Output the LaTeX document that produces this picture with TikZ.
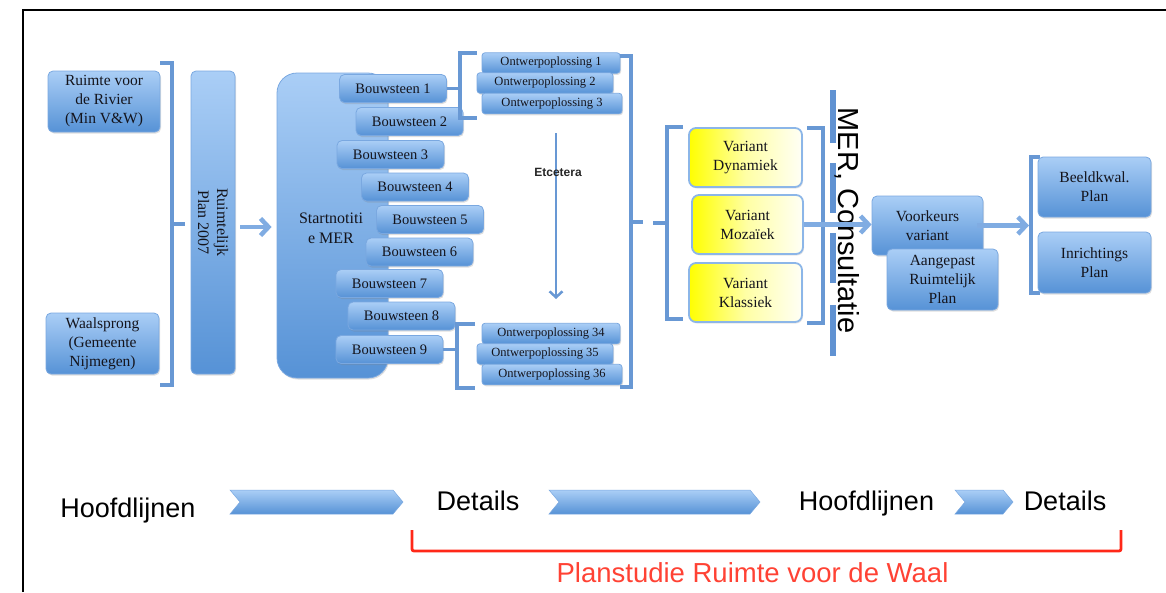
\documentclass[tikz,border=0pt]{standalone}
\usepackage{fontspec}
\setmainfont{Liberation Serif}
\newfontfamily\arialf{Liberation Sans}
\usetikzlibrary{arrows.meta,shadows}
\definecolor{bluetop}{RGB}{170,206,246}
\definecolor{bluebot}{RGB}{86,146,214}
\definecolor{bordblue}{RGB}{122,168,224}
\definecolor{brkblue}{RGB}{104,152,212}
\definecolor{arrblue}{RGB}{128,172,226}
\definecolor{barblue}{RGB}{96,146,210}
\definecolor{txtc}{RGB}{20,20,28}
\definecolor{redl}{RGB}{255,40,24}
\definecolor{redt}{RGB}{255,66,52}
\definecolor{vborder}{RGB}{140,182,232}
\definecolor{yel}{RGB}{255,255,0}
\definecolor{yelmid}{RGB}{255,255,165}
\definecolor{yelend}{RGB}{255,255,246}
\tikzset{
 bbox/.style={draw=bordblue, line width=0.8pt, rounded corners=5pt, top color=bluetop, bottom color=bluebot,
   text=txtc, align=center, inner sep=0pt,
   drop shadow={opacity=0.25, shadow xshift=1pt, shadow yshift=-1.5pt}},
 bstn/.style={bbox, minimum width=107pt, minimum height=28pt, font=\fontsize{14.5}{17}\selectfont},
 ontw/.style={bbox, rounded corners=3pt, minimum height=20.5pt, font=\fontsize{12.5}{14}\selectfont},
 bigbox/.style={bbox, font=\fontsize{15.5}{19}\selectfont},
 varbox/.style={draw=vborder, line width=1.8pt, rounded corners=7pt, left color=yel, right color=yelend,
   middle color=yelmid, text=txtc, align=center, inner sep=0pt, font=\fontsize{15.5}{19}\selectfont,
   drop shadow={opacity=0.2, shadow xshift=1pt, shadow yshift=-1.5pt}},
 brk/.style={draw=brkblue, line width=3.5pt},
 fatarrow/.style={draw=arrblue, line width=4.5pt, -{Straight Barb[length=8pt,width=17pt]}},
 etcarrow/.style={draw=brkblue, line width=2.5pt, -{Straight Barb[length=6pt,width=13pt]}},
 chev/.style={top color=bluetop, bottom color=bluebot, draw=bordblue, line width=0.5pt},
 lbl/.style={font=\arialf\fontsize{27}{30}\selectfont, text=black, inner sep=0pt, anchor=base},
 plain/.style={text=txtc, align=center, inner sep=0pt},
}
\begin{document}
\begin{tikzpicture}[x=1pt,y=-1pt]
\useasboundingbox (0,0) rectangle (1166,592);
% frame
\draw[line width=2pt] (23,592) -- (23,10) -- (1166,10);

% left boxes
\node[bigbox, minimum width=112pt, minimum height=61pt] (rv) at (104,101.5) {Ruimte voor\\de Rivier\\(Min V\&W)};
\node[bigbox, minimum width=113pt, minimum height=61pt] (ws) at (102.5,343.5) {Waalsprong\\(Gemeente\\Nijmegen)};
\draw[brk] (160,63) -- (172,63) -- (172,385) -- (160,385);
\draw[brk] (172,224) -- (185,224);

\node[bbox, minimum width=44pt, minimum height=303pt] (rp) at (213,222.5) {};
\node[plain, rotate=-90, font=\fontsize{16}{19}\selectfont] (rpt) at (rp.center) {Ruimtelijk\\Plan 2007};

% startnotitie
\node[bbox, rounded corners=20pt, minimum width=111pt, minimum height=305pt] (sn) at (332.5,225.5) {};
\draw[fatarrow] ([xshift=5pt,yshift=-4.5pt]rp.east) -- ([xshift=-5pt,yshift=-1.5pt]sn.west);
\node[plain, font=\fontsize{16}{20}\selectfont] (snt) at (331,228) {Startnotiti\\e MER};

% bouwstenen
\node[bstn] (b1) at (393,88.5) {Bouwsteen 1};
\node[bstn] (b2) at (409.5,121.5) {Bouwsteen 2};
\node[bstn] (b3) at (390.5,154.5) {Bouwsteen 3};
\node[bstn] (b4) at (415,187) {Bouwsteen 4};
\node[bstn] (b5) at (430,219.5) {Bouwsteen 5};
\node[bstn] (b6) at (419.5,252) {Bouwsteen 6};
\node[bstn] (b7) at (389.5,283.5) {Bouwsteen 7};
\node[bstn] (b8) at (401.5,316) {Bouwsteen 8};
\node[bstn] (b9) at (389.5,349.5) {Bouwsteen 9};

% ontwerpoplossingen
\node[ontw, minimum width=138pt] (o1) at (551,63) {Ontwerpoplossing 1};
\node[ontw, minimum width=136pt] (o2) at (545,83) {Ontwerpoplossing 2};
\node[ontw, minimum width=140pt] (o3) at (552,103.5) {Ontwerpoplossing 3};
\node[ontw, minimum width=138pt] (o34) at (551,333.5) {Ontwerpoplossing 34};
\node[ontw, minimum width=136pt] (o35) at (545,354) {Ontwerpoplossing 35};
\node[ontw, minimum width=140pt] (o36) at (552,374.5) {Ontwerpoplossing 36};

\coordinate (k1) at (460,88.5);
\coordinate (k9) at (457,349.5);
\draw[brk] (477,53) -- (460,53) -- (460,118) -- (477,118);
\draw[brk] (b1.east) -- (k1);
\draw[brk] (475,324) -- (457,324) -- (457,388) -- (475,388);
\draw[brk] (b9.east) -- (k9);

% etcetera
\coordinate (et1) at (556,133);
\coordinate (et2) at (556,299);
\draw[etcarrow] (et1) -- (et2);
\node[font=\arialf\bfseries\fontsize{12}{13}\selectfont, text=black!85, inner sep=0pt] (etc) at (558,172) {Etcetera};

% big bracket
\draw[brk] (620,56) -- (631,56) -- (631,387) -- (620,387);
\draw[brk] (631,222) -- (643,222);
\draw[brk] (683,127) -- (667,127) -- (667,319) -- (683,319);
\draw[brk] (667,223) -- (653,223);

% variants
\node[varbox, minimum width=113pt, minimum height=59pt] (vd) at (745.5,157.5) {Variant\\Dynamiek};
\node[varbox, minimum width=111pt, minimum height=59pt] (vm) at (747.5,224.5) {Variant\\Moza\"iek};
\node[varbox, minimum width=113pt, minimum height=59pt] (vk) at (745.5,292.5) {Variant\\Klassiek};
\draw[brk] (807,128) -- (823,128) -- (823,323) -- (807,323);

% MER bars and text
\fill[barblue] (829.5,90) rectangle (835.5,143);
\fill[barblue] (829.5,163) rectangle (835.5,213);
\fill[barblue] (829.5,233) rectangle (835.5,283);
\fill[barblue] (829.5,305) rectangle (835.5,356);
\node[font=\arialf\fontsize{29}{32}\selectfont, text=black, inner sep=0pt, rotate=-90, anchor=base] (mer) at (838.5,220.5) {MER, Consultatie};

% right part
\node[bigbox, minimum width=111pt, minimum height=59pt] (vv) at (927.5,225.5) {Voorkeurs\\variant};
\draw[fatarrow] (vm.east) -- (vm.east -| vv.west);
\node[bigbox, minimum width=111pt, minimum height=61pt] (ar) at (942.5,279.5) {Aangepast\\Ruimtelijk\\Plan};
\coordinate (fb) at (1029,225.5);
\draw[fatarrow] ([xshift=-6pt]vv.east) -- (fb);
\draw[brk] (1040,157) -- (1031,157) -- (1031,293) -- (1040,293);
\node[bigbox, minimum width=113pt, minimum height=60pt] (bk) at (1094.5,187) {Beeldkwal.\\Plan};
\node[bigbox, minimum width=113pt, minimum height=61pt] (ip) at (1094.5,262.5) {Inrichtings\\Plan};

% bottom line
\node[lbl] (h1) at (128,517) {Hoofdlijnen};
\node[lbl] (d1) at (478,510) {Details};
\node[lbl] (h2) at (866.5,510) {Hoofdlijnen};
\node[lbl] (d2) at (1065,510) {Details};
\draw[chev] (230,490) -- (393,490) -- (403,502) -- (393,514) -- (230,514) -- (240,502) -- cycle;
\draw[chev] (549,490) -- (750,490) -- (760,502) -- (750,514) -- (549,514) -- (559,502) -- cycle;
\draw[chev] (955,490) -- (1003,490) -- (1013,502) -- (1003,514) -- (955,514) -- (965,502) -- cycle;

\draw[draw=redl, line width=2.8pt, rounded corners=2pt] (412,530) -- (412,551) -- (1121,551) -- (1121,530);
\node[font=\arialf\fontsize{27.5}{30}\selectfont, text=redt, inner sep=0pt, anchor=base] (ps) at (752.5,582) {Planstudie Ruimte voor de Waal};
\end{tikzpicture}
\end{document}
